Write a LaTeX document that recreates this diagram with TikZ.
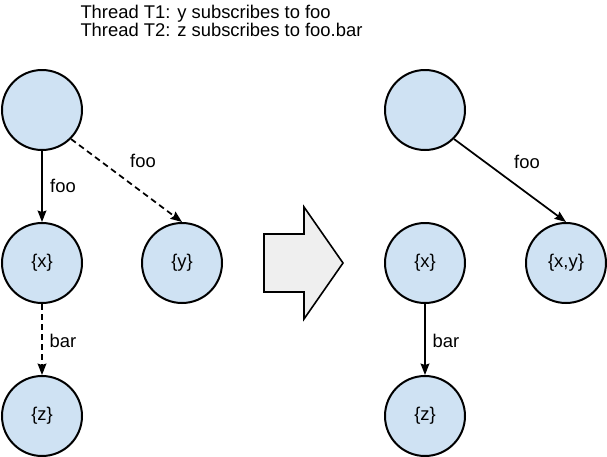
\documentclass[tikz,border=0pt]{standalone}
\usepackage{fontspec}
\setmainfont{Liberation Sans}
\usetikzlibrary{arrows.meta}

\definecolor{setblue}{HTML}{CFE2F3}
\definecolor{shiftgray}{HTML}{EFEFEF}

\tikzset{every picture/.style={line width=0.75pt}}
\tikzset{
  trienode/.style={circle, draw, line width=1.5pt, fill=setblue, minimum size=60pt, inner sep=0pt},
  trieedge/.style={line width=1.3pt, -{Stealth[length=8.5pt,width=6.5pt,inset=1pt]}},
  pending/.style={trieedge, dash pattern=on 4.5pt off 3pt},
  edgelabel/.style={inner sep=0pt},
}

\begin{document}
\begin{tikzpicture}[x=0.75pt,y=0.75pt,yscale=-1,xscale=1,font=\fontsize{13.8}{16}\selectfont]
	\useasboundingbox (0,0) rectangle (607,457);

	% Text Node
	\node[anchor=base west, inner sep=0pt] (threadA) at (80,18.5) {Thread T1: y subscribes to foo};
	% Text Node
	\node[anchor=base west, inner sep=0pt] (threadB) at (80,36.8) {Thread T2: z subscribes to foo.bar};

	%Shape: Circle (before)
	\node[trienode] (rootL) at (42,110) {};
	\node[trienode] (xL) at (42,263) {\{x\}};
	\node[trienode] (yL) at (182,263) {\{y\}};
	\node[trienode] (zL) at (42,416) {\{z\}};

	%Shape: Circle (after)
	\node[trienode] (rootR) at (425,110) {};
	\node[trienode] (xR) at (425,263) {\{x\}};
	\node[trienode] (xyR) at (566,263) {\{x,y\}};
	\node[trienode] (zR) at (425,416) {\{z\}};

	%Shape: Right Arrow
	\draw [line width=1.2pt, fill=shiftgray, line join=miter] (264,234) -- (304,234) -- (304,207) -- (343,263) -- (304,319) -- (304,292) -- (264,292) -- cycle ;

	% Edges
	\draw [trieedge] (rootL) -- (xL);
	\draw [pending] (rootL.south east) -- (yL.north);
	\draw [pending] (xL) -- (zL);
	\draw [trieedge] (rootR.south east) -- (xyR.north);
	\draw [trieedge] (xR) -- (zR);

	% Text Node
	\node[edgelabel] (fooL) at (63,186) {foo};
	% Text Node
	\node[edgelabel] (fooY) at (143,161) {foo};
	% Text Node
	\node[edgelabel] (barL) at (63,341) {bar};
	% Text Node
	\node[edgelabel] (fooR) at (527,162) {foo};
	% Text Node
	\node[edgelabel] (barR) at (446,341) {bar};

\end{tikzpicture}
\end{document}
